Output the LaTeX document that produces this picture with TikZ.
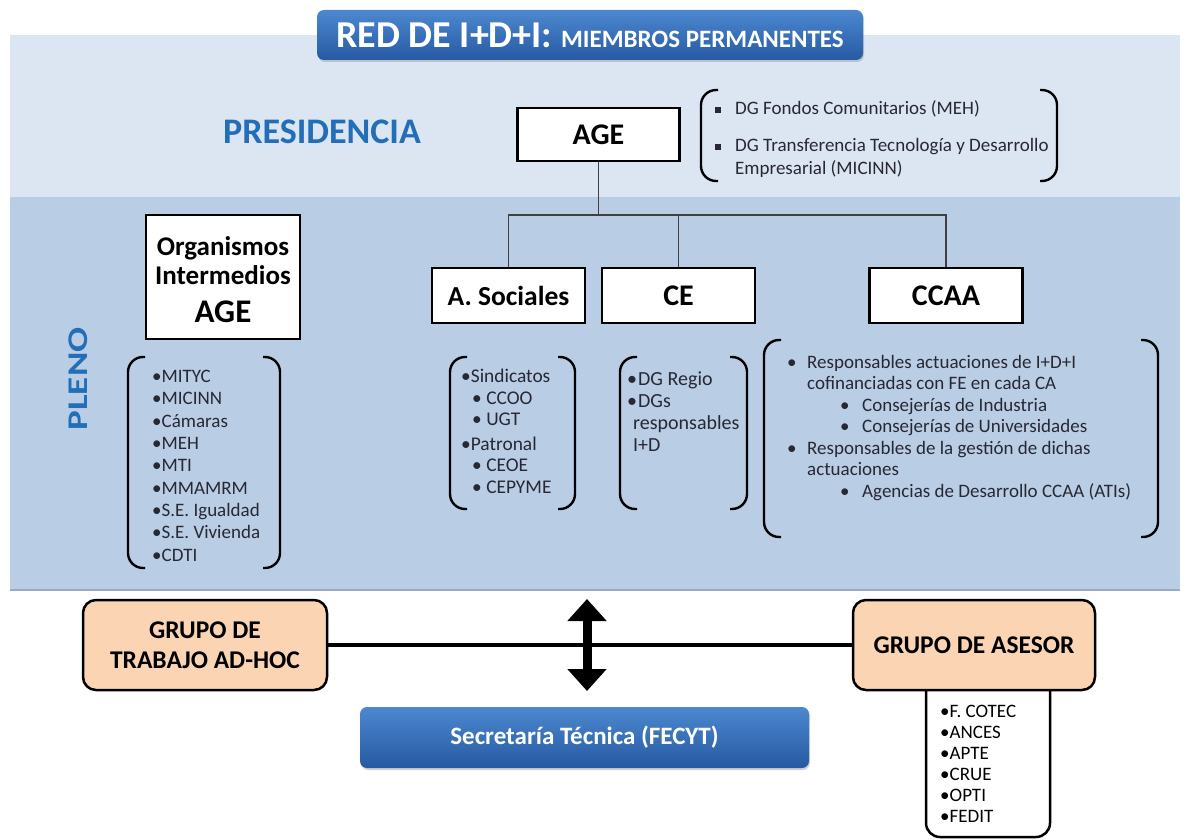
\documentclass[tikz,border=0pt]{standalone}
\usepackage{fontspec}
\setmainfont{Carlito}
\usetikzlibrary{arrows.meta,shadows}
\definecolor{bandtop}{RGB}{220,230,242}
\definecolor{bandlow}{RGB}{185,205,229}
\definecolor{presblue}{RGB}{34,110,184}
\definecolor{titletop}{RGB}{76,136,207}
\definecolor{titlebot}{RGB}{38,90,163}
\definecolor{peach}{RGB}{251,212,180}
\definecolor{listtxt}{RGB}{40,40,52}
\newcommand\brpair[4]{%
  \draw[brk] (#1+17,#2) -- (#1,#2) -- (#1,#4) -- (#1+17,#4);
  \draw[brk] (#3-17,#2) -- (#3,#2) -- (#3,#4) -- (#3-17,#4);}
\newcommand\oitext{Organismos\\Intermedios\\[9pt]\fontsize{33}{36}\selectfont AGE}
\newcommand\sqb{\makebox[20pt][l]{\rule[2pt]{6pt}{6pt}}}
\tikzset{
  brk/.style={line width=2.4pt, rounded corners=15pt, black},
  wbox/.style={draw=black, line width=2.2pt, fill=white, inner sep=0pt, font=\bfseries, text=black},
  bluebox/.style={rounded corners=7pt, top color=titletop, bottom color=titlebot, text=white, font=\bfseries, inner sep=0pt, drop shadow={shadow xshift=1pt, shadow yshift=-2pt, opacity=0.35}},
  peachbox/.style={draw=black, line width=2.5pt, fill=peach, rounded corners=13pt, inner sep=0pt, font=\bfseries\fontsize{25.5}{30}\selectfont, align=center},
  tree/.style={line width=1.2pt, draw=black!75},
  lst/.style={anchor=base west, inner sep=0pt, align=left, text=listtxt},
}
\begin{document}
\begin{tikzpicture}[x=1pt,y=-1pt]
\useasboundingbox (0,0) rectangle (1186,840);
\fill[white] (0,0) rectangle (1186,840);
% bands
\fill[bandtop] (10,35) rectangle (1180,197);
\fill[bandlow] (10,197) rectangle (1180,590);
\draw[line width=1.5pt, draw={rgb,255:red,150;green,172;blue,200}] (10,590) -- (1180,590);
% title
\node[bluebox, minimum width=546pt, minimum height=50pt] (title) at (590,35) {\fontsize{38}{38}\selectfont RED DE I+D+I: \fontsize{25}{25}\selectfont MIEMBROS PERMANENTES};
% presidencia
\node[text=presblue, font=\bfseries\fontsize{36}{36}\selectfont] (pres) at (322,132) {PRESIDENCIA};
\node[text=presblue, font=\bfseries\fontsize{28.5}{28.5}\selectfont, rotate=90] (pleno) at (78,379) {\scalebox{1.3}[1]{PLENO}};
% boxes
\node[wbox, minimum width=162pt, minimum height=53pt, font=\bfseries\fontsize{30}{30}\selectfont] (age) at (598.5,134.5) {AGE};
\node[wbox, minimum width=153pt, minimum height=55pt, font=\bfseries\fontsize{27.5}{27.5}\selectfont] (as) at (508.5,295.5) {A. Sociales};
\node[wbox, minimum width=153pt, minimum height=55pt, font=\bfseries\fontsize{30}{30}\selectfont] (ce) at (678.5,295.5) {CE};
\node[wbox, minimum width=153pt, minimum height=55pt, font=\bfseries\fontsize{30}{30}\selectfont] (ccaa) at (946,295.5) {CCAA};
\node[wbox, minimum width=154pt, minimum height=124pt] (oi) at (223,277) {};
\node[anchor=base, inner sep=0pt, align=center, font=\bfseries\fontsize{27}{29}\selectfont] (oitxt) at (223,322) {\oitext};
% tree
\coordinate (j) at (598.5,215);
\draw[tree] (age.south) -- (j);
\draw[tree] (as.north) -- (as.north |- j) -- (ccaa.north |- j) -- (ccaa.north);
\draw[tree] (ce.north) -- (ce.north |- j);
% top right list
\brpair{701}{90}{1057}{181}
\node[lst, font=\fontsize{19}{23}\selectfont] (toplist) at (715,175) {\sqb DG Fondos Comunitarios (MEH)\\[14pt]\sqb DG Transferencia Tecnología y Desarrollo\\\hspace*{20pt}Empresarial (MICINN)};
% left list
\brpair{128}{357}{280}{568}
\node[lst, font=\fontsize{19}{22.3}\selectfont] (oilist) at (152,561) {•MITYC\\•MICINN\\•Cámaras\\•MEH\\•MTI\\•MMAMRM\\•S.E. Igualdad\\•S.E. Vivienda\\•CDTI};
% a sociales list
\brpair{450}{357}{575}{509}
\node[lst, font=\fontsize{19.4}{21.5}\selectfont] (aslist) at (461,493) {•Sindicatos\\\hspace*{11pt}• CCOO\\\hspace*{11pt}• UGT\\[3pt]•Patronal\\\hspace*{11pt}• CEOE\\\hspace*{11pt}• CEPYME};
% ce list
\brpair{620}{357}{747}{509}
\node[lst, font=\fontsize{20}{22}\selectfont] (celist) at (627,451) {\makebox[11pt][l]{•}DG Regio\\\makebox[11pt][l]{•}DGs\\\hspace*{6pt}responsables\\\hspace*{6pt}I+D};
% ccaa list
\brpair{764}{340}{1158}{537}
\node[lst, font=\fontsize{19}{21.5}\selectfont] (ccaalist) at (787,497) {\makebox[20pt][l]{•}Responsables actuaciones de I+D+I\\\hspace*{20pt}cofinanciadas con FE en cada CA\\\hspace*{53pt}\makebox[22pt][l]{•}Consejerías de Industria\\\hspace*{53pt}\makebox[22pt][l]{•}Consejerías de Universidades\\\makebox[20pt][l]{•}Responsables de la gestión de dichas\\\hspace*{20pt}actuaciones\\\hspace*{53pt}\makebox[22pt][l]{•}Agencias de Desarrollo CCAA (ATIs)};
% bottom
\node[peachbox, minimum width=244pt, minimum height=90pt] (adhoc) at (205,645) {GRUPO DE\\TRABAJO AD-HOC};
\draw[draw=black, line width=2.5pt, fill=white, rounded corners=14pt] (926,676) rectangle (1050,837);
\node[peachbox, minimum width=242pt, minimum height=90pt] (asesor) at (974,645) {GRUPO DE ASESOR};
\node[lst, font=\fontsize{19}{21}\selectfont, text=black] (aslist2) at (940,822) {•F. COTEC\\•ANCES\\•APTE\\•CRUE\\•OPTI\\•FEDIT};
\draw[line width=4pt] (adhoc.east) -- (asesor.west);
\coordinate (up) at (587,599);
\coordinate (dn) at (587,691);
\draw[line width=9pt, {Triangle[width=38pt,length=22pt]}-{Triangle[width=38pt,length=22pt]}] (up) -- (dn);
\node[bluebox, minimum width=449pt, minimum height=61pt, font=\bfseries\fontsize{25}{25}\selectfont] (sec) at (584.5,737.5) {Secretaría Técnica (FECYT)};
\end{tikzpicture}
\end{document}
